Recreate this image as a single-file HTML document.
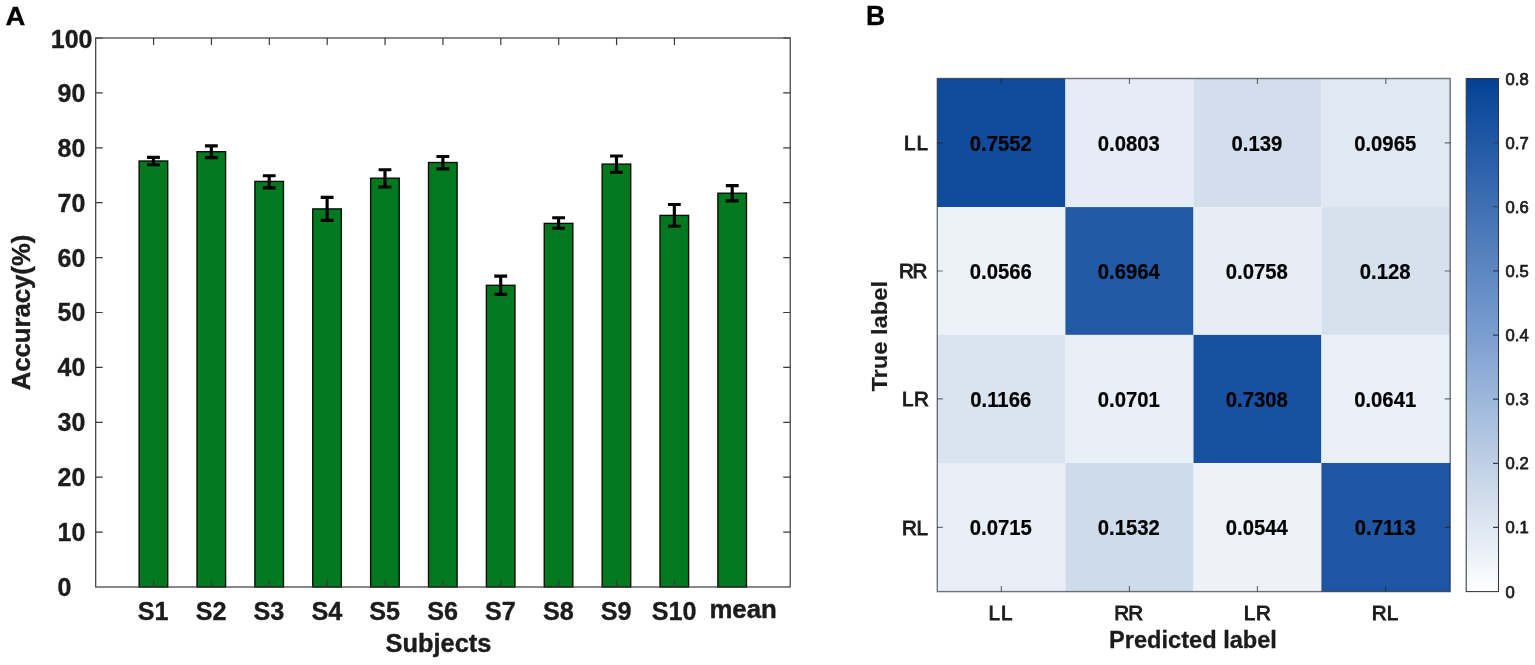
<!DOCTYPE html>
<html lang="en">
<head>
<meta charset="utf-8">
<title>Accuracy per subject and confusion matrix</title>
<style>
html,body{margin:0;padding:0;background:#fff;}
body{width:1535px;height:665px;overflow:hidden;}
svg{display:block;}
text{white-space:pre;}
</style>
</head>
<body>
<svg width="1535" height="665" viewBox="0 0 1535 665">
<rect width="1535" height="665" fill="#fff"/>
<g id="chartA">
<g fill="#03791f" stroke="#020a04" stroke-width="1.35">
<rect x="139.12" y="161.00" width="28.60" height="426.00"/>
<rect x="197.00" y="151.70" width="28.60" height="435.30"/>
<rect x="254.88" y="181.40" width="28.60" height="405.60"/>
<rect x="312.75" y="208.90" width="28.60" height="378.10"/>
<rect x="370.62" y="178.20" width="28.60" height="408.80"/>
<rect x="428.50" y="162.50" width="28.60" height="424.50"/>
<rect x="486.38" y="285.30" width="28.60" height="301.70"/>
<rect x="544.25" y="223.40" width="28.60" height="363.60"/>
<rect x="602.13" y="164.10" width="28.60" height="422.90"/>
<rect x="660.00" y="215.40" width="28.60" height="371.60"/>
<rect x="717.88" y="193.20" width="28.60" height="393.80"/>
</g>
<g stroke="#3a3a3a" stroke-width="1.2" fill="none">
<rect x="95.7" y="38.0" width="694.50" height="549.00"/>
<path d="M95.7 532.10h7M790.2 532.10h-7M95.7 477.20h7M790.2 477.20h-7M95.7 422.30h7M790.2 422.30h-7M95.7 367.40h7M790.2 367.40h-7M95.7 312.50h7M790.2 312.50h-7M95.7 257.60h7M790.2 257.60h-7M95.7 202.70h7M790.2 202.70h-7M95.7 147.80h7M790.2 147.80h-7M95.7 92.90h7M790.2 92.90h-7M95.7 38.00h7M790.2 38.00h-7M153.57 587.0v-7M153.57 38.0v7M211.45 587.0v-7M211.45 38.0v7M269.32 587.0v-7M269.32 38.0v7M327.20 587.0v-7M327.20 38.0v7M385.07 587.0v-7M385.07 38.0v7M442.95 587.0v-7M442.95 38.0v7M500.82 587.0v-7M500.82 38.0v7M558.70 587.0v-7M558.70 38.0v7M616.58 587.0v-7M616.58 38.0v7M674.45 587.0v-7M674.45 38.0v7"/>
</g>
<g stroke="#000" stroke-width="3.15" fill="none" stroke-linecap="butt" stroke-linejoin="round">
<path d="M153.47 157.40V164.70M147.07 157.40h12.8M147.07 164.70h12.8"/>
<path d="M211.35 145.90V157.60M204.95 145.90h12.8M204.95 157.60h12.8"/>
<path d="M269.22 175.70V187.80M262.82 175.70h12.8M262.82 187.80h12.8"/>
<path d="M327.10 197.30V220.30M320.70 197.30h12.8M320.70 220.30h12.8"/>
<path d="M384.97 169.70V187.00M378.57 169.70h12.8M378.57 187.00h12.8"/>
<path d="M442.85 156.50V168.80M436.45 156.50h12.8M436.45 168.80h12.8"/>
<path d="M500.72 276.10V294.30M494.32 276.10h12.8M494.32 294.30h12.8"/>
<path d="M558.60 217.70V228.20M552.20 217.70h12.8M552.20 228.20h12.8"/>
<path d="M616.48 156.00V172.20M610.08 156.00h12.8M610.08 172.20h12.8"/>
<path d="M674.35 204.50V226.20M667.95 204.50h12.8M667.95 226.20h12.8"/>
<path d="M732.23 185.60V200.80M725.83 185.60h12.8M725.83 200.80h12.8"/>
</g>
<g font-family="'Liberation Sans', Arial, Helvetica, sans-serif">
<text transform="translate(57.50 595.90) scale(1 1.04)" font-size="25.0" font-weight="bold" fill="#1c1c1c" stroke="#1c1c1c" stroke-width="0.35">0</text>
<text transform="translate(57.50 541.00) scale(1 1.04)" font-size="25.0" font-weight="bold" fill="#1c1c1c" stroke="#1c1c1c" stroke-width="0.35">10</text>
<text transform="translate(57.50 486.10) scale(1 1.04)" font-size="25.0" font-weight="bold" fill="#1c1c1c" stroke="#1c1c1c" stroke-width="0.35">20</text>
<text transform="translate(57.50 431.20) scale(1 1.04)" font-size="25.0" font-weight="bold" fill="#1c1c1c" stroke="#1c1c1c" stroke-width="0.35">30</text>
<text transform="translate(57.50 376.30) scale(1 1.04)" font-size="25.0" font-weight="bold" fill="#1c1c1c" stroke="#1c1c1c" stroke-width="0.35">40</text>
<text transform="translate(57.50 321.40) scale(1 1.04)" font-size="25.0" font-weight="bold" fill="#1c1c1c" stroke="#1c1c1c" stroke-width="0.35">50</text>
<text transform="translate(57.50 266.50) scale(1 1.04)" font-size="25.0" font-weight="bold" fill="#1c1c1c" stroke="#1c1c1c" stroke-width="0.35">60</text>
<text transform="translate(57.50 211.60) scale(1 1.04)" font-size="25.0" font-weight="bold" fill="#1c1c1c" stroke="#1c1c1c" stroke-width="0.35">70</text>
<text transform="translate(57.50 156.70) scale(1 1.04)" font-size="25.0" font-weight="bold" fill="#1c1c1c" stroke="#1c1c1c" stroke-width="0.35">80</text>
<text transform="translate(57.50 101.80) scale(1 1.04)" font-size="25.0" font-weight="bold" fill="#1c1c1c" stroke="#1c1c1c" stroke-width="0.35">90</text>
<text transform="translate(50.80 48.40) scale(1 1.04)" font-size="25.0" font-weight="bold" fill="#1c1c1c" stroke="#1c1c1c" stroke-width="0.35">100</text>
<text transform="translate(153.17 620.20) scale(1 1.05)" font-size="25.2" font-weight="bold" text-anchor="middle" fill="#1c1c1c" stroke="#1c1c1c" stroke-width="0.35">S1</text>
<text transform="translate(211.05 620.20) scale(1 1.05)" font-size="25.2" font-weight="bold" text-anchor="middle" fill="#1c1c1c" stroke="#1c1c1c" stroke-width="0.35">S2</text>
<text transform="translate(268.93 620.20) scale(1 1.05)" font-size="25.2" font-weight="bold" text-anchor="middle" fill="#1c1c1c" stroke="#1c1c1c" stroke-width="0.35">S3</text>
<text transform="translate(326.80 620.20) scale(1 1.05)" font-size="25.2" font-weight="bold" text-anchor="middle" fill="#1c1c1c" stroke="#1c1c1c" stroke-width="0.35">S4</text>
<text transform="translate(384.68 620.20) scale(1 1.05)" font-size="25.2" font-weight="bold" text-anchor="middle" fill="#1c1c1c" stroke="#1c1c1c" stroke-width="0.35">S5</text>
<text transform="translate(442.55 620.20) scale(1 1.05)" font-size="25.2" font-weight="bold" text-anchor="middle" fill="#1c1c1c" stroke="#1c1c1c" stroke-width="0.35">S6</text>
<text transform="translate(500.43 620.20) scale(1 1.05)" font-size="25.2" font-weight="bold" text-anchor="middle" fill="#1c1c1c" stroke="#1c1c1c" stroke-width="0.35">S7</text>
<text transform="translate(558.30 620.20) scale(1 1.05)" font-size="25.2" font-weight="bold" text-anchor="middle" fill="#1c1c1c" stroke="#1c1c1c" stroke-width="0.35">S8</text>
<text transform="translate(616.18 620.20) scale(1 1.05)" font-size="25.2" font-weight="bold" text-anchor="middle" fill="#1c1c1c" stroke="#1c1c1c" stroke-width="0.35">S9</text>
<text transform="translate(674.05 620.20) scale(1 1.05)" font-size="25.2" font-weight="bold" text-anchor="middle" fill="#1c1c1c" stroke="#1c1c1c" stroke-width="0.35">S10</text>
<text transform="translate(743.10 618.10) scale(1 1.02)" font-size="25.8" font-weight="bold" text-anchor="middle" fill="#1c1c1c" stroke="#1c1c1c" stroke-width="0.4">mean</text>
<text transform="translate(438.50 652.30) scale(1 1.03)" font-size="25.4" font-weight="bold" text-anchor="middle" fill="#1c1c1c" stroke="#1c1c1c" stroke-width="0.4">Subjects</text>
<text transform="translate(29.50 312.50) rotate(-90)" font-size="25.7" font-weight="bold" text-anchor="middle" fill="#1c1c1c" stroke="#1c1c1c" stroke-width="0.4">Accuracy(%)</text>
<text transform="translate(5.45 24.95) scale(1 0.958)" font-size="27.5" font-weight="bold" fill="#000" stroke="#000" stroke-width="0.3">A</text>
</g>
</g>
<g id="chartB">
<defs><linearGradient id="cb" x1="0" y1="1" x2="0" y2="0">
<stop offset="0" stop-color="#ffffff"/><stop offset="0.25" stop-color="#bfd0e5"/><stop offset="0.5" stop-color="#7b9ed0"/><stop offset="1" stop-color="#034196"/></linearGradient></defs>
<g>
<rect x="937.30" y="78.50" width="128.10" height="128.60" fill="#104b9c"/>
<rect x="1065.40" y="78.50" width="128.10" height="128.60" fill="#e5ecf5"/>
<rect x="1193.50" y="78.50" width="127.90" height="128.60" fill="#d3deed"/>
<rect x="1321.40" y="78.50" width="128.80" height="128.60" fill="#e0e8f2"/>
<rect x="937.30" y="207.10" width="128.10" height="127.80" fill="#edf2f8"/>
<rect x="1065.40" y="207.10" width="128.10" height="127.80" fill="#2259a5"/>
<rect x="1193.50" y="207.10" width="127.90" height="127.80" fill="#e7edf5"/>
<rect x="1321.40" y="207.10" width="128.80" height="127.80" fill="#d6e1ee"/>
<rect x="937.30" y="334.90" width="128.10" height="128.10" fill="#dae4f0"/>
<rect x="1065.40" y="334.90" width="128.10" height="128.10" fill="#e9eff6"/>
<rect x="1193.50" y="334.90" width="127.90" height="128.10" fill="#1851a0"/>
<rect x="1321.40" y="334.90" width="128.80" height="128.10" fill="#eaf0f7"/>
<rect x="937.30" y="463.00" width="128.10" height="128.60" fill="#e8eef6"/>
<rect x="1065.40" y="463.00" width="128.10" height="128.60" fill="#cedbeb"/>
<rect x="1193.50" y="463.00" width="127.90" height="128.60" fill="#eef2f8"/>
<rect x="1321.40" y="463.00" width="128.80" height="128.60" fill="#1e56a3"/>
</g>
<g stroke="#1e2126" stroke-opacity="0.62" stroke-width="1.4" fill="none">
<rect x="937.3" y="78.5" width="512.90" height="513.10"/>
<path d="M1001.35 591.6v-5.5M1001.35 78.5v5.5M937.3 142.80h5.5M1450.2 142.80h-5.5M1129.45 591.6v-5.5M1129.45 78.5v5.5M937.3 271.00h5.5M1450.2 271.00h-5.5M1257.45 591.6v-5.5M1257.45 78.5v5.5M937.3 398.95h5.5M1450.2 398.95h-5.5M1385.80 591.6v-5.5M1385.80 78.5v5.5M937.3 527.30h5.5M1450.2 527.30h-5.5" stroke-width="1.2"/>
</g>
<g font-family="'Liberation Sans', Arial, Helvetica, sans-serif">
<text transform="translate(1000.75 150.70) scale(1 1.07)" font-size="20.3" font-weight="bold" text-anchor="middle" fill="#000" stroke="#000" stroke-width="0.2">0.7552</text>
<text transform="translate(1128.85 150.70) scale(1 1.07)" font-size="20.3" font-weight="bold" text-anchor="middle" fill="#000" stroke="#000" stroke-width="0.2">0.0803</text>
<text transform="translate(1256.85 150.70) scale(1 1.07)" font-size="20.3" font-weight="bold" text-anchor="middle" fill="#000" stroke="#000" stroke-width="0.2">0.139</text>
<text transform="translate(1385.20 150.70) scale(1 1.07)" font-size="20.3" font-weight="bold" text-anchor="middle" fill="#000" stroke="#000" stroke-width="0.2">0.0965</text>
<text transform="translate(1000.75 278.90) scale(1 1.07)" font-size="20.3" font-weight="bold" text-anchor="middle" fill="#000" stroke="#000" stroke-width="0.2">0.0566</text>
<text transform="translate(1128.85 278.90) scale(1 1.07)" font-size="20.3" font-weight="bold" text-anchor="middle" fill="#000" stroke="#000" stroke-width="0.2">0.6964</text>
<text transform="translate(1256.85 278.90) scale(1 1.07)" font-size="20.3" font-weight="bold" text-anchor="middle" fill="#000" stroke="#000" stroke-width="0.2">0.0758</text>
<text transform="translate(1385.20 278.90) scale(1 1.07)" font-size="20.3" font-weight="bold" text-anchor="middle" fill="#000" stroke="#000" stroke-width="0.2">0.128</text>
<text transform="translate(1000.75 406.85) scale(1 1.07)" font-size="20.3" font-weight="bold" text-anchor="middle" fill="#000" stroke="#000" stroke-width="0.2">0.1166</text>
<text transform="translate(1128.85 406.85) scale(1 1.07)" font-size="20.3" font-weight="bold" text-anchor="middle" fill="#000" stroke="#000" stroke-width="0.2">0.0701</text>
<text transform="translate(1256.85 406.85) scale(1 1.07)" font-size="20.3" font-weight="bold" text-anchor="middle" fill="#000" stroke="#000" stroke-width="0.2">0.7308</text>
<text transform="translate(1385.20 406.85) scale(1 1.07)" font-size="20.3" font-weight="bold" text-anchor="middle" fill="#000" stroke="#000" stroke-width="0.2">0.0641</text>
<text transform="translate(1000.75 535.20) scale(1 1.07)" font-size="20.3" font-weight="bold" text-anchor="middle" fill="#000" stroke="#000" stroke-width="0.2">0.0715</text>
<text transform="translate(1128.85 535.20) scale(1 1.07)" font-size="20.3" font-weight="bold" text-anchor="middle" fill="#000" stroke="#000" stroke-width="0.2">0.1532</text>
<text transform="translate(1256.85 535.20) scale(1 1.07)" font-size="20.3" font-weight="bold" text-anchor="middle" fill="#000" stroke="#000" stroke-width="0.2">0.0544</text>
<text transform="translate(1385.20 535.20) scale(1 1.07)" font-size="20.3" font-weight="bold" text-anchor="middle" fill="#000" stroke="#000" stroke-width="0.2">0.7113</text>
<text transform="translate(0 150.25) scale(1 1.0)" x="903.89 916.45" font-size="20.6" fill="#1c1c1c" stroke="#1c1c1c" stroke-width="0.95">LL</text>
<text transform="translate(0 620.10) scale(1 1.0)" x="988.39 1000.95" font-size="20.6" fill="#1c1c1c" stroke="#1c1c1c" stroke-width="0.95">LL</text>
<text transform="translate(0 278.45) scale(1 1.0)" x="898.89 912.60" font-size="20.6" fill="#1c1c1c" stroke="#1c1c1c" stroke-width="0.95">RR</text>
<text transform="translate(0 620.10) scale(1 1.0)" x="1114.29 1128.20" font-size="20.6" fill="#1c1c1c" stroke="#1c1c1c" stroke-width="0.95">RR</text>
<text transform="translate(0 406.40) scale(1 1.0)" x="902.09 913.90" font-size="20.6" fill="#1c1c1c" stroke="#1c1c1c" stroke-width="0.95">LR</text>
<text transform="translate(0 620.10) scale(1 1.0)" x="1243.79 1256.10" font-size="20.6" fill="#1c1c1c" stroke="#1c1c1c" stroke-width="0.95">LR</text>
<text transform="translate(0 534.75) scale(1 1.0)" x="902.09 916.45" font-size="20.6" fill="#1c1c1c" stroke="#1c1c1c" stroke-width="0.95">RL</text>
<text transform="translate(0 620.10) scale(1 1.0)" x="1371.79 1386.85" font-size="20.6" fill="#1c1c1c" stroke="#1c1c1c" stroke-width="0.95">RL</text>
<text transform="translate(1193.00 648.40)" font-size="23.6" font-weight="bold" text-anchor="middle" fill="#1c1c1c" stroke="#1c1c1c" stroke-width="0.3">Predicted label</text>
<text transform="translate(887.40 336.30) rotate(-90) scale(1 0.97)" font-size="23.7" font-weight="bold" text-anchor="middle" fill="#1c1c1c" stroke="#1c1c1c" stroke-width="0.15">True label</text>
<text transform="translate(866.10 25.05) scale(1 1.01)" font-size="26.6" font-weight="bold" fill="#000" stroke="#000" stroke-width="0.3">B</text>
</g>
<rect x="1466.2" y="78.5" width="32.30" height="513.10" fill="url(#cb)" stroke="#33363c" stroke-width="1.05"/>
<path d="M1498.5 527.46h-5.5M1498.5 463.33h-5.5M1498.5 399.19h-5.5M1498.5 335.05h-5.5M1498.5 270.91h-5.5M1498.5 206.77h-5.5M1498.5 142.64h-5.5" stroke="#2f3f5c" stroke-width="1.2" fill="none"/>
<g font-family="'Liberation Sans', Arial, Helvetica, sans-serif">
<text transform="translate(1505.60 597.60)" font-size="16.6" fill="#1c1c1c" stroke="#1c1c1c" stroke-width="0.75">0</text>
<text transform="translate(1505.60 533.46)" font-size="16.6" fill="#1c1c1c" stroke="#1c1c1c" stroke-width="0.75">0.1</text>
<text transform="translate(1505.60 469.33)" font-size="16.6" fill="#1c1c1c" stroke="#1c1c1c" stroke-width="0.75">0.2</text>
<text transform="translate(1505.60 405.19)" font-size="16.6" fill="#1c1c1c" stroke="#1c1c1c" stroke-width="0.75">0.3</text>
<text transform="translate(1505.60 341.05)" font-size="16.6" fill="#1c1c1c" stroke="#1c1c1c" stroke-width="0.75">0.4</text>
<text transform="translate(1505.60 276.91)" font-size="16.6" fill="#1c1c1c" stroke="#1c1c1c" stroke-width="0.75">0.5</text>
<text transform="translate(1505.60 212.77)" font-size="16.6" fill="#1c1c1c" stroke="#1c1c1c" stroke-width="0.75">0.6</text>
<text transform="translate(1505.60 148.64)" font-size="16.6" fill="#1c1c1c" stroke="#1c1c1c" stroke-width="0.75">0.7</text>
<text transform="translate(1505.60 84.50)" font-size="16.6" fill="#1c1c1c" stroke="#1c1c1c" stroke-width="0.75">0.8</text>
</g>
</g>
</svg>
</body>
</html>
